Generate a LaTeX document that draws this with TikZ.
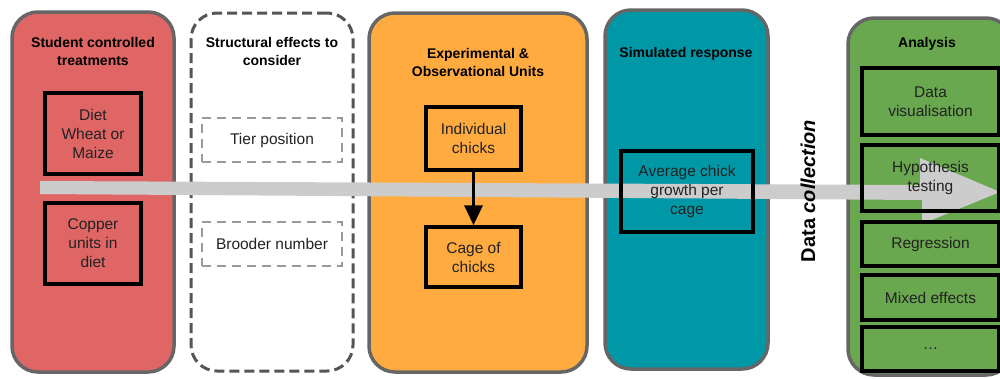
\documentclass[tikz,border=0pt]{standalone}
\usepackage{fontspec}
\setmainfont{Liberation Sans}
\usetikzlibrary{arrows.meta,shapes}
\definecolor{trtred}{HTML}{E06666}
\definecolor{unitorange}{HTML}{FFAB40}
\definecolor{respteal}{HTML}{0097A7}
\definecolor{analgreen}{HTML}{6AA84F}
\definecolor{rimgray}{HTML}{666666}
\definecolor{dashgray}{HTML}{555555}
\definecolor{effectgray}{HTML}{999999}
\definecolor{bandgray}{HTML}{CCCCCC}
\definecolor{inkgray}{HTML}{222222}
\tikzstyle{panel}=[draw=rimgray,line width=3.5pt,rounded corners=26pt,inner sep=0pt]
\tikzstyle{heading}=[font=\bfseries\fontsize{14}{18}\selectfont,align=center,text=black]
\tikzstyle{unit}=[draw=black,line width=3.5pt,inner sep=0pt,align=center,text=inkgray,font=\fontsize{15.5}{19}\selectfont]
\tikzstyle{effect}=[draw=effectgray,line width=2.8pt,dash pattern=on 9pt off 6pt,inner sep=0pt,align=center,text=inkgray,font=\fontsize{15.5}{19}\selectfont]

\begin{document}
\begin{tikzpicture}[x=1pt,y=-1pt]
      \useasboundingbox (0,0) rectangle (1000,378);
      \clip (0,0) rectangle (1000,378);
      % panels
      \node[panel,fill=trtred,minimum width=162pt,minimum height=360pt] (trt) at (93,192) {};
      \node[panel,draw=dashgray,line width=3pt,dash pattern=on 10pt off 5pt,fill=white,minimum width=162pt,minimum height=358pt] (struct) at (272,192) {};
      \node[panel,fill=unitorange,minimum width=218pt,minimum height=359pt] (units) at (478,192.5) {};
      \node[panel,fill=respteal,minimum width=163pt,minimum height=359pt] (resp) at (686.5,189.5) {};
      \node[panel,fill=analgreen,minimum width=164pt,minimum height=357pt] (anal) at (930,196.5) {};
      \node[heading] (trttitle) at (93,51) {Student controlled\\treatments};
      \node[heading] (structtitle) at (272,51) {Structural effects to\\consider};
      \node[heading] (unitstitle) at (478,62) {Experimental \&\\Observational Units};
      \node[heading] (resptitle) at (686,54) {Simulated response};
      \node[heading] (analtitle) at (927,44) {Analysis};
      % data collection band
      \fill[bandgray] (40,181) -- (920,185) -- (920,158) -- (1000,192)
            -- (922,224) -- (922,200) -- (40,194) -- cycle;
      \node[rotate=90,font=\bfseries\fontsize{20}{24}\selectfont,text=black] (collect) at (808,191) {Data \textit{collection}};
      % inner boxes
      \node[unit,minimum width=96pt,minimum height=81pt] (diet) at (93,133.5) {Diet\\Wheat or\\Maize};
      \node[unit,minimum width=96pt,minimum height=81pt] (copper) at (93,243.5) {Copper\\units in\\diet};
      \node[effect,minimum width=140pt,minimum height=44pt] (tier) at (272,140) {Tier position};
      \node[effect,minimum width=140pt,minimum height=44pt] (brooder) at (272,244) {Brooder number};
      \node[unit,minimum width=95pt,minimum height=63pt] (indiv) at (473.5,138.5) {Individual\\chicks};
      \node[unit,minimum width=95pt,minimum height=60pt] (cage) at (473.5,257) {Cage of\\chicks};
      \node[unit,minimum width=132pt,minimum height=81pt] (avg) at (687,191.5) {Average chick\\growth per\\cage};
      \node[unit,minimum width=137pt,minimum height=67pt] (vis) at (930.5,101.5) {Data\\visualisation};
      \node[unit,minimum width=137pt,minimum height=66pt] (hyp) at (930.5,178) {Hypothesis\\testing};
      \node[unit,minimum width=137pt,minimum height=44pt] (regr) at (930.5,244) {Regression};
      \node[unit,minimum width=137pt,minimum height=45pt] (mixed) at (930.5,297.5) {Mixed effects};
      \node[unit,minimum width=137pt,minimum height=44pt] (dots) at (930.5,349) {\dots};
      \draw[line width=3.5pt,-{Triangle[length=20pt,width=18pt]}] (indiv) -- (cage);
\end{tikzpicture}
\end{document}
